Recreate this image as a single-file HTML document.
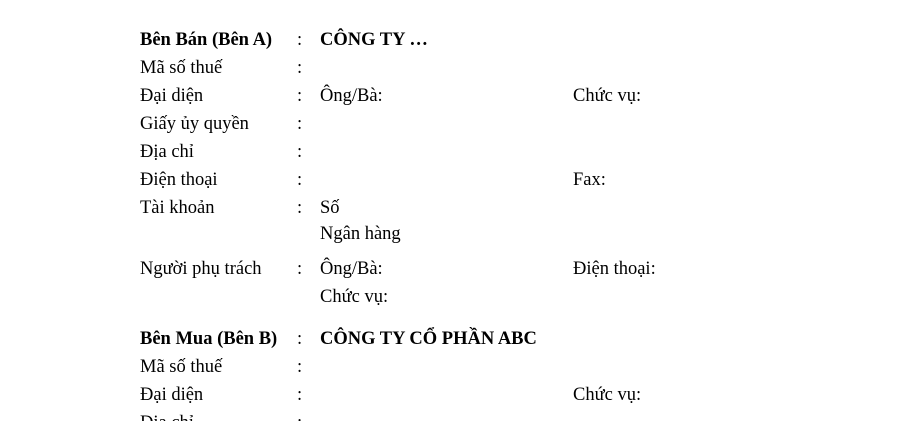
<!DOCTYPE html>
<html><head><meta charset="utf-8"><style>
html,body{margin:0;padding:0;background:#fff;width:920px;height:441px;overflow:hidden;position:relative}
.t{position:absolute;font-family:"Liberation Serif",serif;font-size:18.5px;color:#000;line-height:20px;white-space:nowrap}
.b{font-weight:bold}
#w{position:absolute;left:0;top:2px;width:920px;height:441px}
</style></head><body>
<div id="w">
<div class="t b" style="left:140px;top:28px">Bên Bán (Bên A)</div><div class="t" style="left:297px;top:28px">:</div><div class="t b" style="left:320px;top:28px">CÔNG TY …</div>
<div class="t" style="left:140px;top:56px">Mã số thuế</div><div class="t" style="left:297px;top:56px">:</div>
<div class="t" style="left:140px;top:84px">Đại diện</div><div class="t" style="left:297px;top:84px">:</div><div class="t" style="left:320px;top:84px">Ông/Bà:</div><div class="t" style="left:573px;top:84px">Chức vụ:</div>
<div class="t" style="left:140px;top:112px">Giấy ủy quyền</div><div class="t" style="left:297px;top:112px">:</div>
<div class="t" style="left:140px;top:140px">Địa chỉ</div><div class="t" style="left:297px;top:140px">:</div>
<div class="t" style="left:140px;top:168px">Điện thoại</div><div class="t" style="left:297px;top:168px">:</div><div class="t" style="left:573px;top:168px">Fax:</div>
<div class="t" style="left:140px;top:196px">Tài khoản</div><div class="t" style="left:297px;top:196px">:</div><div class="t" style="left:320px;top:196px">Số</div>
<div class="t" style="left:320px;top:222px">Ngân hàng</div>
<div class="t" style="left:140px;top:257px">Người phụ trách</div><div class="t" style="left:297px;top:257px">:</div><div class="t" style="left:320px;top:257px">Ông/Bà:</div><div class="t" style="left:573px;top:257px">Điện thoại:</div>
<div class="t" style="left:320px;top:285px">Chức vụ:</div>
<div class="t b" style="left:140px;top:327px">Bên Mua (Bên B)</div><div class="t" style="left:297px;top:327px">:</div><div class="t b" style="left:320px;top:327px">CÔNG TY CỔ PHẦN ABC</div>
<div class="t" style="left:140px;top:355px">Mã số thuế</div><div class="t" style="left:297px;top:355px">:</div>
<div class="t" style="left:140px;top:383px">Đại diện</div><div class="t" style="left:297px;top:383px">:</div><div class="t" style="left:573px;top:383px">Chức vụ:</div>
<div class="t" style="left:140px;top:411px">Địa chỉ</div><div class="t" style="left:297px;top:411px">:</div>
</div>
<div style="position:absolute;left:0;top:421px;width:920px;height:20px;background:#fff"></div>
</body></html>
